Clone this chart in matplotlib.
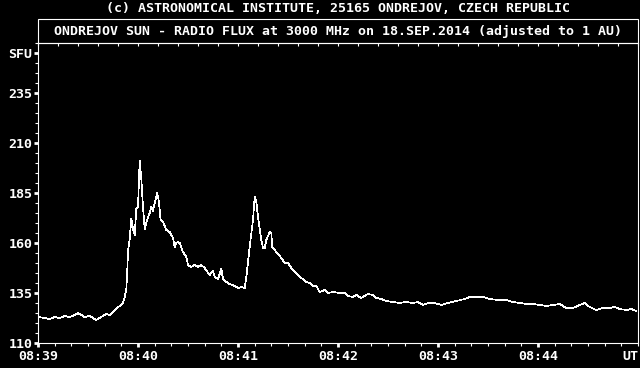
import matplotlib
matplotlib.use('Agg')
import matplotlib.pyplot as plt
from matplotlib.patches import Rectangle
from matplotlib.ticker import FixedLocator, MultipleLocator

# seconds after 08:39 UT and flux in SFU
seconds = [0, 4, 7, 10, 13, 16, 19, 22, 24, 26, 28, 31, 33, 35, 38, 41, 43, 46, 49, 51,
           52, 53, 53.5, 54, 55, 56, 57, 58, 59, 60, 61, 62, 63, 64, 65, 66, 67, 68, 69, 70,
           71.5, 72.5, 73.5, 75, 77, 79, 81, 82, 83, 84, 85, 87, 89, 90, 92, 94, 96, 98, 100,
           103, 105, 106, 108, 110, 111, 113, 115, 118, 120, 122, 124, 125, 127, 129, 130,
           131, 132, 134, 135, 136, 137, 139, 140, 140.5, 143, 146, 148, 150, 152, 155, 158,
           161, 163, 165, 167, 169, 172, 174, 177, 181, 184, 186, 189, 191, 194, 196, 198,
           201, 203, 206, 209, 213, 217, 221, 225, 228, 231, 234, 238, 242, 246, 251, 256,
           259, 263, 267, 271, 276, 281, 285, 289, 293, 297, 301, 305, 309, 313, 317, 321,
           325, 328, 331, 335, 339, 343, 346, 349, 353, 356, 359]
flux = [123, 122.5, 122, 123, 122.5, 123.5, 123, 124, 125, 124, 123, 123.5, 122.5, 121.5,
        123, 124.5, 124, 126.5, 128.5, 130, 133, 137, 145, 156, 162, 172, 167, 164, 177, 178,
        201, 192, 178, 167, 170, 173, 175, 178, 176, 180, 185, 181, 172, 170.5, 166.5, 165.5,
        162.5, 158, 160, 160.5, 160, 155.5, 153, 149, 148, 149, 148, 149, 147.5, 144, 146,
        143, 142, 147, 142, 140.5, 139.5, 138.5, 137.5, 138, 137.5, 143, 158, 171.5, 183,
        180.5, 173, 161.5, 157.5, 157.5, 161.5, 165.5, 165, 158, 155.5, 152.5, 150, 150,
        147.5, 145, 142.5, 140.5, 140, 138.5, 138.5, 135.5, 136.5, 135, 135.5, 135, 135,
        133.5, 133, 134, 132.5, 133.5, 134.5, 134, 132.5, 132, 131, 130.5, 130, 130.5, 130,
        130.5, 129, 130, 130, 129, 130, 131, 132, 133, 133, 133, 132, 131.5, 131.5, 130.5,
        130, 129.5, 129.5, 129, 128.5, 129, 129.5, 127.5, 127.5, 129, 130, 128, 126.5, 127.5,
        127.5, 128, 127, 126.5, 127, 126]

minute_ticks = [0, 60, 120, 180, 240, 300]
minute_labels = ['08:39', '08:40', '08:41', '08:42', '08:43', '08:44']
sfu_ticks = [110, 135, 160, 185, 210, 235, 255]
sfu_labels = ['110', '135', '160', '185', '210', '235', 'SFU']

title_top = '(c) ASTRONOMICAL INSTITUTE, 25165 ONDREJOV, CZECH REPUBLIC'
title_box = 'ONDREJOV SUN - RADIO FLUX at 3000 MHz on 18.SEP.2014 (adjusted to 1 AU)'

W, H = 640, 368
FONT = dict(family='DejaVu Sans Mono', weight='bold', size=9.5, color='white')


def px(x, y):
    # pixel position (from top left) -> figure fraction
    return x / W, 1 - y / H


def build_plot():
    fig = plt.figure(figsize=(6.4, 3.68), dpi=100, facecolor='black')
    left, top = px(38, 43)
    right, bottom = px(638, 343)
    ax = fig.add_axes([left, bottom, right - left, top - bottom], facecolor='black')

    ax.plot(seconds, flux, color='white', lw=0.5, antialiased=False)
    ax.set_xlim(0, 360)
    ax.set_ylim(110, 260)

    for side in ax.spines.values():
        side.set_color('white')
        side.set_linewidth(0.8)

    ax.set_xticks(minute_ticks)
    ax.set_xticklabels(minute_labels, fontdict=FONT)
    ax.xaxis.set_minor_locator(MultipleLocator(10))
    ax.set_yticks(sfu_ticks)
    ax.set_yticklabels(sfu_labels, fontdict=FONT)
    ax.yaxis.set_minor_locator(MultipleLocator(5))

    ax.tick_params(which='major', color='white', direction='out', length=3, width=2, pad=2)
    ax.tick_params(which='minor', color='white', direction='out', length=2, width=0.8)
    ax.tick_params(axis='y', pad=1)

    # small inward ticks along the top edge
    top_ax = ax.secondary_xaxis('top')
    top_ax.xaxis.set_major_locator(FixedLocator(list(range(0, 361, 12))))
    top_ax.tick_params(direction='in', length=2, width=0.8, color='white', labeltop=False)
    top_ax.spines['top'].set_visible(False)

    # frame around the second title line
    bx, by = px(38, 43)
    bx2, by2 = px(638, 19)
    fig.patches.append(Rectangle((bx, by), bx2 - bx, by2 - by, transform=fig.transFigure,
                                 fill=False, edgecolor='white', lw=0.8))

    cx = (bx + bx2) / 2
    fig.text(cx, px(0, 8)[1], title_top, ha='center', va='center', **FONT)
    fig.text(cx, px(0, 31)[1], title_box, ha='center', va='center', **FONT)
    fig.text(*px(638, 357), 'UT', ha='right', va='center', **FONT)

    fig.savefig('out.png', dpi=100, facecolor='black')


if __name__ == '__main__':
    build_plot()
